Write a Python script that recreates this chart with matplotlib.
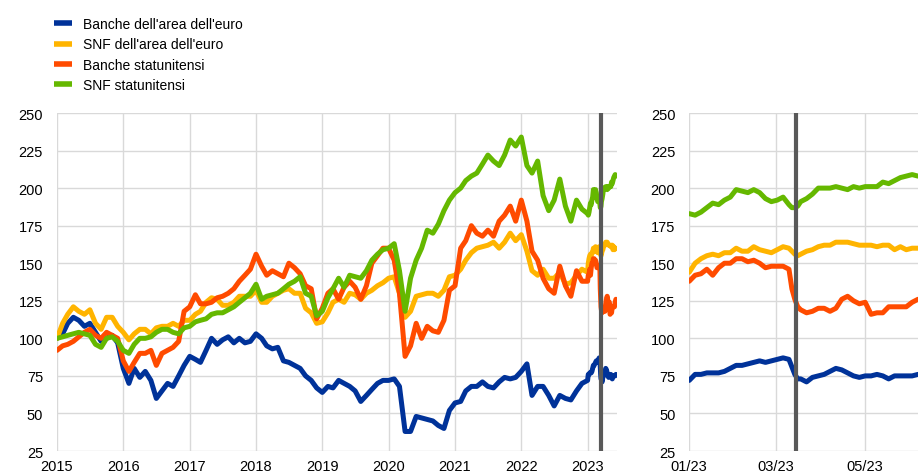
import pandas as pd
import matplotlib
matplotlib.use("Agg")
import matplotlib.pyplot as plt
import matplotlib.dates as mdates
from matplotlib.lines import Line2D

plt.rcParams['font.family'] = ['Liberation Sans', 'DejaVu Sans']

labels = ["Banche dell'area dell'euro", "SNF dell'area dell'euro",
          "Banche statunitensi", "SNF statunitensi"]
colors = ['#003299', '#ffb400', '#ff4b00', '#65b800']

# monthly index levels, Jan 2015 = 100
months = pd.date_range('2015-01-01', '2022-12-01', freq='MS')
ea_banks_m = [
    100, 103, 110, 114, 112, 108, 110, 104, 98, 100, 102, 97,
    80, 70, 80, 74, 78, 72, 60, 65, 70, 68, 75, 82,
    88, 86, 84, 92, 100, 96, 99, 101, 97, 100, 97, 98,
    103, 100, 95, 93, 94, 85, 84, 82, 80, 75, 72, 67,
    64, 68, 67, 72, 70, 68, 65, 58, 62, 66, 70, 72,
    72, 73, 68, 38, 38, 48, 47, 46, 45, 42, 40, 52,
    57, 58, 65, 68, 68, 71, 68, 67, 71, 74, 73, 74,
    78, 83, 62, 68, 68, 62, 55, 62, 60, 59, 65, 70]
ea_nfc_m = [
    100, 110, 116, 121, 118, 116, 119, 110, 106, 114, 114, 108,
    104, 99, 103, 106, 106, 103, 107, 108, 108, 110, 108, 112,
    112, 116, 118, 124, 127, 126, 122, 122, 124, 128, 128, 128,
    132, 124, 124, 128, 130, 132, 133, 130, 130, 120, 117, 110,
    111, 117, 124, 126, 124, 130, 129, 126, 130, 132, 135, 137,
    140, 141, 130, 114, 118, 128, 129, 130, 130, 128, 132, 141,
    142, 146, 152, 157, 160, 161, 162, 164, 160, 164, 170, 165,
    169, 158, 145, 142, 146, 140, 140, 144, 136, 137, 142, 146]
us_banks_m = [
    92, 95, 96, 98, 101, 104, 106, 102, 100, 104, 102, 100,
    85, 78, 84, 90, 90, 92, 82, 90, 92, 94, 98, 118,
    121, 129, 123, 123, 124, 127, 128, 130, 133, 138, 142, 146,
    156, 148, 142, 145, 143, 141, 150, 147, 143, 135, 133, 113,
    120, 130, 133, 126, 134, 138, 134, 126, 135, 150, 155, 160,
    160, 152, 130, 88, 95, 110, 100, 108, 105, 104, 112, 132,
    135, 160, 165, 175, 170, 168, 172, 168, 178, 182, 188, 178,
    192, 178, 158, 152, 140, 133, 130, 148, 135, 128, 145, 138]
us_nfc_m = [
    100, 101, 102, 103, 104, 103, 102, 96, 94, 100, 101, 98,
    92, 90, 96, 100, 100, 101, 104, 106, 106, 104, 103, 107,
    108, 111, 112, 113, 116, 117, 117, 119, 121, 124, 127, 130,
    136, 126, 128, 129, 130, 133, 136, 138, 141, 130, 128, 115,
    118, 127, 133, 140, 134, 142, 141, 140, 145, 152, 156, 159,
    160, 163, 145, 118, 140, 152, 160, 172, 170, 176, 185, 192,
    197, 200, 205, 208, 210, 216, 222, 218, 215, 222, 232, 228,
    234, 215, 210, 218, 195, 185, 192, 206, 188, 178, 192, 186]

# 2023 detail, days since 1 Jan 2023
days_2023 = [0, 4, 8, 12, 16, 20, 24, 28, 32, 36, 40, 44, 48, 52, 56, 60, 64, 68,
             70, 72, 74, 76, 80, 84, 88, 92, 96, 100, 104, 108, 112, 116, 120,
             124, 128, 132, 136, 140, 144, 148, 152, 156]
ea_banks_23 = [72, 76, 76, 77, 77, 77, 78, 80, 82, 82, 83, 84, 85, 84, 85, 86, 87, 86,
               81, 76, 73, 73, 71, 74, 75, 76, 78, 80, 79, 77, 75, 74, 75,
               75, 76, 75, 73, 75, 75, 75, 75, 76]
ea_nfc_23 = [144, 150, 153, 155, 156, 155, 157, 157, 160, 158, 158, 161, 159, 158, 157, 159, 161, 160,
             158, 156, 155, 156, 158, 159, 161, 162, 162, 164, 164, 164, 163, 162, 162,
             162, 161, 162, 162, 159, 161, 159, 160, 160]
us_banks_23 = [138, 142, 143, 146, 142, 147, 150, 150, 153, 153, 151, 152, 150, 147, 148, 148, 148, 146,
               133, 126, 121, 119, 117, 118, 120, 120, 118, 120, 126, 128, 125, 123, 124,
               116, 117, 117, 121, 121, 121, 121, 124, 126]
us_nfc_23 = [183, 182, 184, 187, 190, 189, 192, 194, 199, 198, 197, 199, 197, 193, 191, 192, 194, 189,
             187, 187, 188, 191, 193, 196, 200, 200, 200, 201, 200, 199, 201, 200, 201,
             201, 201, 204, 203, 205, 207, 208, 209, 208]

event_date = pd.Timestamp('2023-03-15')

start_23 = pd.Timestamp('2023-01-01')
dates_23 = start_23 + pd.to_timedelta(days_2023, unit='D')
dates_all = months.append(dates_23)

series_m = [ea_banks_m, ea_nfc_m, us_banks_m, us_nfc_m]
series_23 = [ea_banks_23, ea_nfc_23, us_banks_23, us_nfc_23]

fig = plt.figure(figsize=(9.18, 4.77), dpi=100)
ax1 = fig.add_axes([0.0621, 0.0524, 0.610, 0.7086])
ax2 = fig.add_axes([0.7508, 0.0524, 0.2492, 0.7086])

for ax in (ax1, ax2):
    ax.set_ylim(25, 250)
    ax.set_yticks(range(25, 251, 25))
    ax.grid(True, color='#d9d9d9', linewidth=1)
    ax.set_axisbelow(True)
    for sp in ax.spines.values():
        sp.set_visible(False)
    ax.tick_params(length=0, labelsize=10.5, colors='#000000')
    ax.tick_params(axis='y', pad=10)
    ax.tick_params(axis='x', pad=6)

for m, d, c in zip(series_m, series_23, colors):
    ax1.plot(dates_all, list(m) + list(d), color=c, lw=3.6,
             solid_joinstyle='round', solid_capstyle='round')
    ax2.plot(dates_23, d, color=c, lw=3.6,
             solid_joinstyle='round', solid_capstyle='round')

ax1.set_xlim(pd.Timestamp('2015-01-01'), pd.Timestamp('2023-06-12'))
ax1.xaxis.set_major_locator(mdates.YearLocator())
ax1.xaxis.set_major_formatter(mdates.DateFormatter('%Y'))

ax2.set_xlim(start_23, start_23 + pd.Timedelta(days=156))
ax2.xaxis.set_major_locator(mdates.MonthLocator(bymonth=[1, 3, 5, 7]))
ax2.xaxis.set_major_formatter(mdates.DateFormatter('%m/%y'))

for ax in (ax1, ax2):
    ax.axvline(event_date, color='#595959', lw=3, zorder=5)

handles = [Line2D([], [], color=c, lw=4, solid_capstyle='butt') for c in colors]
fig.legend(handles, labels, loc='upper left', bbox_to_anchor=(0.059, 0.962),
           frameon=False, fontsize=10, handlelength=1.25, handletextpad=0.8,
           labelspacing=0.45, borderaxespad=0, borderpad=0)

plt.savefig('out.png', dpi=100)
